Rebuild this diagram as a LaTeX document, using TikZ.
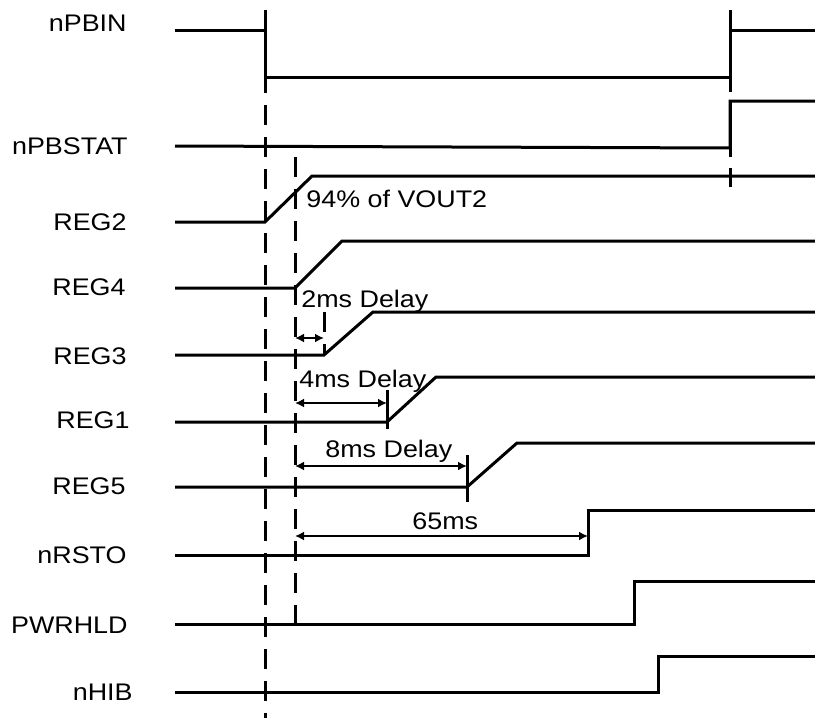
\documentclass[tikz,border=0pt]{standalone}
\usepackage{fontspec}
\setmainfont{Liberation Sans}[FakeStretch=1.12]
\usetikzlibrary{arrows.meta}

\begin{document}
\begin{tikzpicture}[x=0.5pt,y=-0.5pt,
  sig/.style={black, line width=1.5pt},
  guide/.style={black, line width=1.5pt, dash pattern=on 10pt off 6pt},
  dim/.style={black, line width=1pt, {Latex[length=4.5pt,width=4.5pt]}-{Latex[length=4.5pt,width=4.5pt]}},
  lbl/.style={anchor=east, inner sep=0pt, font=\fontsize{12}{14}\selectfont},
  txt/.style={anchor=base west, inner sep=0pt, font=\fontsize{12}{14}\selectfont}]
\useasboundingbox (0,0) rectangle (815,718);

\draw[sig] (175,30) -- (265,30) -- (265,77) -- (730,77) -- (730,30) -- (815,30);
\draw[sig] (265,10) -- (265,93);
\draw[sig] (730,10) -- (730,92);
\draw[sig] (175,146) -- (730,148) -- (730,101) -- (815,101);
\draw[sig] (730,101) -- (730,157);
\draw[sig] (175,222) -- (265,222) -- (312,176) -- (815,176);
\draw[sig] (730,168) -- (730,187);
\draw[sig] (175,288) -- (295,288) -- (342,241) -- (815,241);
\draw[sig] (175,355) -- (324,355) -- (373,312) -- (815,312);
\draw[sig] (175,422) -- (387,422) -- (436,377) -- (815,377);
\draw[sig] (175,487) -- (467,487) -- (517,443) -- (815,443);
\draw[sig] (175,555) -- (588,555) -- (588,510) -- (815,510);
\draw[sig] (175,624) -- (634,624) -- (634,581) -- (815,581);
\draw[sig] (175,692) -- (658,692) -- (658,656) -- (815,656);

\draw[guide] (265,105) -- (265,718);
\draw[guide] (295,157) -- (295,624);
\draw[guide] (324,312) -- (324,355);
\draw[sig] (387,390) -- (387,429);
\draw[sig] (467,455) -- (467,502);

\coordinate (d2a) at (295,338);  \coordinate (d2b) at (324,338);
\coordinate (d4a) at (295,403);  \coordinate (d4b) at (387,403);
\coordinate (d8a) at (295,466);  \coordinate (d8b) at (467,466);
\coordinate (d65a) at (295,536); \coordinate (d65b) at (588,536);
\draw[dim] (d2a) -- (d2b);
\draw[dim] (d4a) -- (d4b);
\draw[dim] (d8a) -- (d8b);
\draw[dim] (d65a) -- (d65b);

\node[lbl] (nPBIN) at (127,23) {nPBIN};
\node[lbl] (nPBSTAT) at (128,146) {nPBSTAT};
\node[lbl] (REG2) at (127,222) {REG2};
\node[lbl] (REG4) at (126,287) {REG4};
\node[lbl] (REG3) at (127,356) {REG3};
\node[lbl] (REG1) at (130,420) {REG1};
\node[lbl] (REG5) at (126,486) {REG5};
\node[lbl] (nRSTO) at (127,555) {nRSTO};
\node[lbl] (PWRHLD) at (128,625) {PWRHLD};
\node[lbl] (nHIB) at (133,692) {nHIB};

\node[txt] (vout) at (306,207) {94\% of VOUT2};
\node[txt] (t2) at (301,307) {2ms Delay};
\node[txt] (t4) at (299,387) {4ms Delay};
\node[txt] (t8) at (325,457) {8ms Delay};
\node[txt] (t65) at (412,529) {65ms};
\end{tikzpicture}
\end{document}
